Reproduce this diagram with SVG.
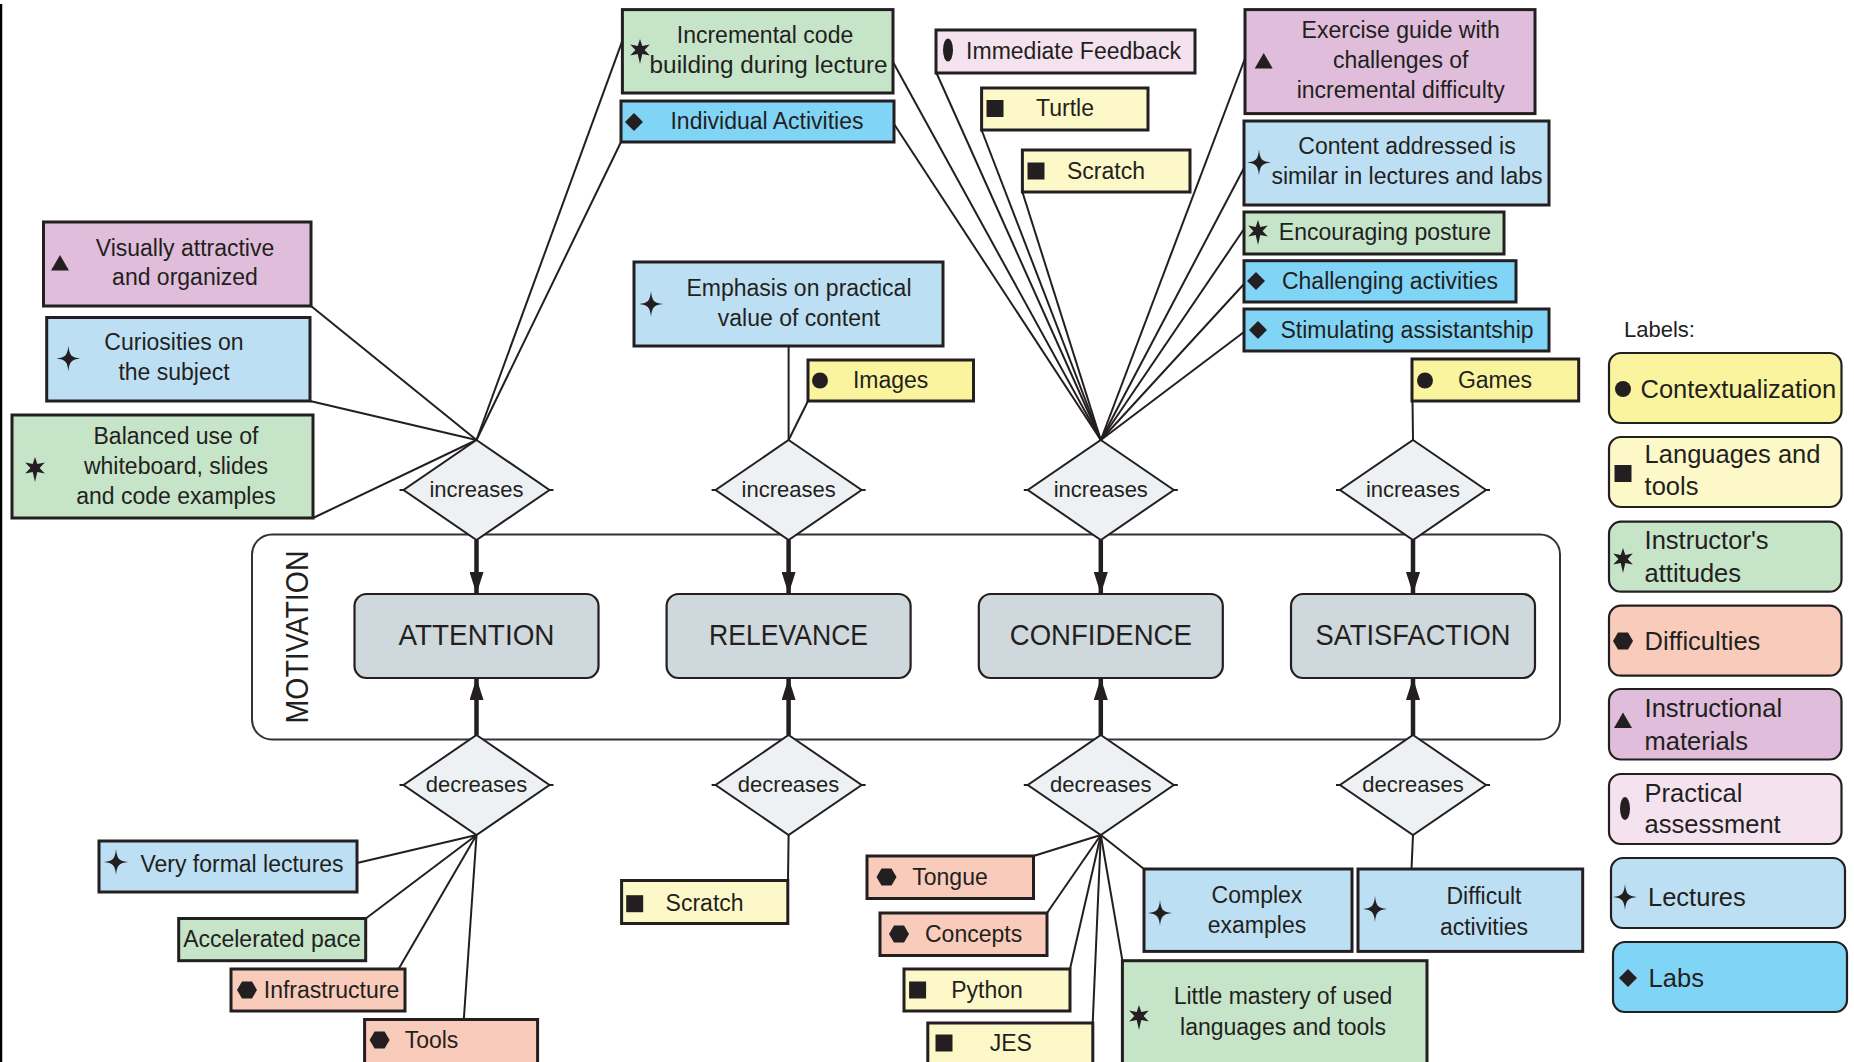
<svg xmlns="http://www.w3.org/2000/svg" xmlns:xlink="http://www.w3.org/1999/xlink" width="1854" height="1062" viewBox="0 0 1854 1062">
  <style>
    text { font-family: "Liberation Sans", Arial, sans-serif; fill: #231f20; }
    .t { font-size: 23px; text-anchor: middle; }
    .rel { font-size: 22px; text-anchor: middle; }
    .big { font-size: 30px; text-anchor: middle; }
    .lg { font-size: 25.5px; }
    .box { stroke: #231f20; stroke-width: 3; }
    .leg { stroke: #231f20; stroke-width: 2.2; }
    .ctx { fill: #fbf49f; }
    .lang { fill: #fcf8c8; }
    .inst { fill: #c6e4c8; }
    .diff { fill: #f9cbbb; }
    .mat { fill: #dfbddb; }
    .prac { fill: #f4e2ef; }
    .lect { fill: #bddff4; }
    .labs { fill: #80d4f6; }
    .dim { fill: #cfd8dd; stroke: #231f20; stroke-width: 2.2; }
    .rhomb { fill: #edf1f4; stroke: #231f20; stroke-width: 2; }
    .tick { stroke: #231f20; stroke-width: 2; }
    #connectors line { stroke: #231f20; stroke-width: 2; }
    #connectors line.arrow { stroke-width: 4.5; }
    .ico { fill: #231f20; }
  </style>
  <defs>
    <!-- category icons, centred on 0,0 -->
    <polygon id="i-tri" class="ico" points="0,-8 9,7.5 -9,7.5"/>
    <rect id="i-sq" class="ico" x="-8.5" y="-8.5" width="17" height="17"/>
    <circle id="i-circ" class="ico" r="8"/>
    <ellipse id="i-ell" class="ico" rx="5" ry="11.5"/>
    <polygon id="i-hex" class="ico" points="-10,0 -5,-8.5 5,-8.5 10,0 5,8.5 -5,8.5"/>
    <polygon id="i-dia" class="ico" points="0,-9 9,0 0,9 -9,0"/>
    <path id="i-star4" class="ico" d="M0,-13 C1,-3 3,-1 12,0 C3,1 1,3 0,13 C-1,3 -3,1 -12,0 C-3,-1 -1,-3 0,-13Z"/>
    <polygon id="i-star6" class="ico" points="0,-11 2.3,-4 9.8,-5.6 4.6,0 9.8,5.6 2.3,4 0,14 -2.3,4 -9.8,5.6 -4.6,0 -9.8,-5.6 -2.3,-4"/>
    <marker id="ah" viewBox="0 0 22 14" refX="22" refY="7" markerWidth="22" markerHeight="14" markerUnits="userSpaceOnUse" orient="auto">
      <path d="M0,0 L22,7 L0,14Z" fill="#231f20"/>
    </marker>
  </defs>

  <rect width="1854" height="1062" fill="#ffffff"/>
  <line x1="1" y1="4" x2="1" y2="1062" stroke="#000" stroke-width="2.5"/>

  <!-- MOTIVATION frame -->
  <g id="motivation">
    <rect x="252" y="534.5" width="1308" height="205" rx="20" fill="none" stroke="#333" stroke-width="2"/>
    <text class="big" textLength="173" lengthAdjust="spacingAndGlyphs" transform="translate(307.5,637) rotate(-90)" x="0" y="0" style="font-size:32px">MOTIVATION</text>
  </g>

  <!-- connectors -->
  <g id="connectors">
    <!-- attention / increases -->
    <line x1="476.5" y1="440" x2="622.4" y2="40.6"/>
    <line x1="476.5" y1="440" x2="621" y2="142"/>
    <line x1="476.5" y1="440" x2="311" y2="306"/>
    <line x1="476.5" y1="440" x2="310" y2="401"/>
    <line x1="476.5" y1="440" x2="313" y2="518"/>
    <!-- relevance / increases -->
    <line x1="788.6" y1="440" x2="788.6" y2="346"/>
    <line x1="788.6" y1="440" x2="808" y2="401"/>
    <!-- confidence / increases -->
    <line x1="1100.8" y1="440" x2="893" y2="62"/>
    <line x1="1100.8" y1="440" x2="894" y2="124"/>
    <line x1="1100.8" y1="440" x2="936.5" y2="73"/>
    <line x1="1100.8" y1="440" x2="981.6" y2="130"/>
    <line x1="1100.8" y1="440" x2="1022.4" y2="192"/>
    <line x1="1100.8" y1="440" x2="1245" y2="58.5"/>
    <line x1="1100.8" y1="440" x2="1244" y2="168"/>
    <line x1="1100.8" y1="440" x2="1244" y2="229"/>
    <line x1="1100.8" y1="440" x2="1244" y2="284"/>
    <line x1="1100.8" y1="440" x2="1244" y2="332"/>
    <!-- satisfaction / increases -->
    <line x1="1413" y1="440" x2="1412.5" y2="401"/>
    <!-- attention / decreases -->
    <line x1="476.5" y1="835" x2="357" y2="863"/>
    <line x1="476.5" y1="835" x2="365.8" y2="918.5"/>
    <line x1="476.5" y1="835" x2="398.6" y2="969"/>
    <line x1="476.5" y1="835" x2="463.8" y2="1019.5"/>
    <!-- relevance / decreases -->
    <line x1="788.6" y1="835" x2="788" y2="880.5"/>
    <!-- confidence / decreases -->
    <line x1="1100.8" y1="835" x2="1033.5" y2="856"/>
    <line x1="1100.8" y1="835" x2="1047" y2="913"/>
    <line x1="1100.8" y1="835" x2="1070" y2="969"/>
    <line x1="1100.8" y1="835" x2="1092.7" y2="1023"/>
    <line x1="1100.8" y1="835" x2="1122.4" y2="960.7"/>
    <line x1="1100.8" y1="835" x2="1144" y2="869"/>
    <!-- satisfaction / decreases -->
    <line x1="1413" y1="835" x2="1411.5" y2="869"/>
    <!-- relation diamonds into the motivation dimensions -->
    <line class="arrow" x1="476.5" y1="540" x2="476.5" y2="594" marker-end="url(#ah)"/>
    <line class="arrow" x1="788.6" y1="540" x2="788.6" y2="594" marker-end="url(#ah)"/>
    <line class="arrow" x1="1100.8" y1="540" x2="1100.8" y2="594" marker-end="url(#ah)"/>
    <line class="arrow" x1="1413" y1="540" x2="1413" y2="594" marker-end="url(#ah)"/>
    <line class="arrow" x1="476.5" y1="735" x2="476.5" y2="678" marker-end="url(#ah)"/>
    <line class="arrow" x1="788.6" y1="735" x2="788.6" y2="678" marker-end="url(#ah)"/>
    <line class="arrow" x1="1100.8" y1="735" x2="1100.8" y2="678" marker-end="url(#ah)"/>
    <line class="arrow" x1="1413" y1="735" x2="1413" y2="678" marker-end="url(#ah)"/>
  </g>

  <!-- motivation dimensions -->
  <g id="attention"><rect class="dim" x="354.5" y="594" width="244" height="84" rx="12"/><text class="big" x="476.5" y="645" textLength="156" lengthAdjust="spacingAndGlyphs">ATTENTION</text></g>
  <g id="relevance"><rect class="dim" x="666.6" y="594" width="244" height="84" rx="12"/><text class="big" x="788.6" y="645" textLength="159" lengthAdjust="spacingAndGlyphs">RELEVANCE</text></g>
  <g id="confidence"><rect class="dim" x="978.8" y="594" width="244" height="84" rx="12"/><text class="big" x="1100.8" y="645" textLength="182" lengthAdjust="spacingAndGlyphs">CONFIDENCE</text></g>
  <g id="satisfaction"><rect class="dim" x="1291" y="594" width="244" height="84" rx="12"/><text class="big" x="1413" y="645" textLength="195" lengthAdjust="spacingAndGlyphs">SATISFACTION</text></g>

  <!-- relation diamonds -->
  <g id="inc-attention"><polygon class="rhomb" points="476.5,440 549.5,490 476.5,540 403.5,490"/><line class="tick" x1="399.5" y1="490" x2="403.5" y2="490"/><line class="tick" x1="549.5" y1="490" x2="553.5" y2="490"/><text class="rel" x="476.5" y="497">increases</text></g>
  <g id="inc-relevance"><polygon class="rhomb" points="788.6,440 861.6,490 788.6,540 715.6,490"/><line class="tick" x1="711.6" y1="490" x2="715.6" y2="490"/><line class="tick" x1="861.6" y1="490" x2="865.6" y2="490"/><text class="rel" x="788.6" y="497">increases</text></g>
  <g id="inc-confidence"><polygon class="rhomb" points="1100.8,440 1173.8,490 1100.8,540 1027.8,490"/><line class="tick" x1="1023.8" y1="490" x2="1027.8" y2="490"/><line class="tick" x1="1173.8" y1="490" x2="1177.8" y2="490"/><text class="rel" x="1100.8" y="497">increases</text></g>
  <g id="inc-satisfaction"><polygon class="rhomb" points="1413,440 1486,490 1413,540 1340,490"/><line class="tick" x1="1336" y1="490" x2="1340" y2="490"/><line class="tick" x1="1486" y1="490" x2="1490" y2="490"/><text class="rel" x="1413" y="497">increases</text></g>
  <g id="dec-attention"><polygon class="rhomb" points="476.5,735 549.5,785 476.5,835 403.5,785"/><line class="tick" x1="399.5" y1="785" x2="403.5" y2="785"/><line class="tick" x1="549.5" y1="785" x2="553.5" y2="785"/><text class="rel" x="476.5" y="792">decreases</text></g>
  <g id="dec-relevance"><polygon class="rhomb" points="788.6,735 861.6,785 788.6,835 715.6,785"/><line class="tick" x1="711.6" y1="785" x2="715.6" y2="785"/><line class="tick" x1="861.6" y1="785" x2="865.6" y2="785"/><text class="rel" x="788.6" y="792">decreases</text></g>
  <g id="dec-confidence"><polygon class="rhomb" points="1100.8,735 1173.8,785 1100.8,835 1027.8,785"/><line class="tick" x1="1023.8" y1="785" x2="1027.8" y2="785"/><line class="tick" x1="1173.8" y1="785" x2="1177.8" y2="785"/><text class="rel" x="1100.8" y="792">decreases</text></g>
  <g id="dec-satisfaction"><polygon class="rhomb" points="1413,735 1486,785 1413,835 1340,785"/><line class="tick" x1="1336" y1="785" x2="1340" y2="785"/><line class="tick" x1="1486" y1="785" x2="1490" y2="785"/><text class="rel" x="1413" y="792">decreases</text></g>

  <!-- factors that increase motivation -->
  <g id="n-visually"><rect class="box mat" x="43.5" y="222" width="267.5" height="84"/><use href="#i-tri" x="60" y="263"/><text class="t" x="185" y="256">Visually attractive</text><text class="t" x="185" y="285">and organized</text></g>
  <g id="n-curiosities"><rect class="box lect" x="46.7" y="317.5" width="263.3" height="83.5"/><use href="#i-star4" x="68.4" y="358.5"/><text class="t" x="174" y="350">Curiosities on</text><text class="t" x="174" y="380">the subject</text></g>
  <g id="n-balanced"><rect class="box inst" x="12" y="415" width="301" height="103"/><use href="#i-star6" x="35" y="468"/><text class="t" x="176" y="444">Balanced use of</text><text class="t" x="176" y="474">whiteboard, slides</text><text class="t" x="176" y="504">and code examples</text></g>
  <g id="n-incremental"><rect class="box inst" x="622.4" y="9.6" width="270.6" height="83.4"/><use href="#i-star6" x="640" y="50"/><text class="t" x="765" y="43">Incremental code</text><text class="t" x="768.6" y="73" textLength="238" lengthAdjust="spacingAndGlyphs">building during lecture</text></g>
  <g id="n-individual"><rect class="box labs" x="621" y="101" width="273" height="41"/><use href="#i-dia" x="634" y="122"/><text class="t" x="767" y="128.5">Individual Activities</text></g>
  <g id="n-emphasis"><rect class="box lect" x="634" y="262" width="309" height="84"/><use href="#i-star4" x="651" y="304"/><text class="t" x="799" y="296">Emphasis on practical</text><text class="t" x="799" y="325.5">value of content</text></g>
  <g id="n-images"><rect class="box ctx" x="808" y="360" width="165.5" height="41"/><use href="#i-circ" x="820" y="380.5"/><text class="t" x="890.6" y="388">Images</text></g>
  <g id="n-feedback"><rect class="box prac" x="936" y="30" width="259" height="43"/><use href="#i-ell" x="948" y="50"/><text class="t" x="1073.5" y="58.5">Immediate Feedback</text></g>
  <g id="n-turtle"><rect class="box lang" x="981.6" y="88" width="166.4" height="42"/><use href="#i-sq" x="995" y="108.5"/><text class="t" x="1065" y="116">Turtle</text></g>
  <g id="n-scratch-top"><rect class="box lang" x="1022.4" y="150" width="167.6" height="42"/><use href="#i-sq" x="1036" y="171"/><text class="t" x="1106" y="178.5">Scratch</text></g>
  <g id="n-exercise"><rect class="box mat" x="1245" y="9.6" width="290" height="104"/><use href="#i-tri" x="1263.7" y="61"/><text class="t" x="1400.7" y="38">Exercise guide with</text><text class="t" x="1400.7" y="68">challenges of</text><text class="t" x="1400.7" y="98">incremental difficulty</text></g>
  <g id="n-content"><rect class="box lect" x="1244" y="121" width="305" height="84"/><use href="#i-star4" x="1259" y="162.5"/><text class="t" x="1407" y="154">Content addressed is</text><text class="t" x="1407" y="184">similar in lectures and labs</text></g>
  <g id="n-encouraging"><rect class="box inst" x="1244" y="212" width="260" height="42"/><use href="#i-star6" x="1258" y="231"/><text class="t" x="1385" y="240">Encouraging posture</text></g>
  <g id="n-challenging"><rect class="box labs" x="1244" y="260.7" width="272" height="41.3"/><use href="#i-dia" x="1256" y="281"/><text class="t" x="1390" y="288.5">Challenging activities</text></g>
  <g id="n-stimulating"><rect class="box labs" x="1244" y="309" width="305" height="42"/><use href="#i-dia" x="1258" y="330"/><text class="t" x="1407" y="337.5">Stimulating assistantship</text></g>
  <g id="n-games"><rect class="box ctx" x="1412" y="359" width="166.7" height="42"/><use href="#i-circ" x="1425" y="380.5"/><text class="t" x="1495" y="388">Games</text></g>

  <!-- factors that decrease motivation -->
  <g id="n-formal"><rect class="box lect" x="99" y="841" width="258" height="51"/><use href="#i-star4" x="116" y="862"/><text class="t" x="242" y="872">Very formal lectures</text></g>
  <g id="n-pace"><rect class="box inst" x="178.7" y="918.5" width="187" height="42.2"/><text class="t" x="272" y="946.5">Accelerated pace</text></g>
  <g id="n-infrastructure"><rect class="box diff" x="231" y="969" width="174" height="42"/><use href="#i-hex" x="247" y="990"/><text class="t" x="331.5" y="997.5">Infrastructure</text></g>
  <g id="n-tools"><rect class="box diff" x="364.6" y="1019.5" width="173" height="50"/><use href="#i-hex" x="379.6" y="1040"/><text class="t" x="431.5" y="1047.5">Tools</text></g>
  <g id="n-scratch-bottom"><rect class="box lang" x="621.6" y="880.5" width="166.2" height="43"/><use href="#i-sq" x="634.7" y="903.7"/><text class="t" x="704.6" y="911">Scratch</text></g>
  <g id="n-tongue"><rect class="box diff" x="867" y="856" width="166.5" height="42.5"/><use href="#i-hex" x="886.5" y="877"/><text class="t" x="950" y="884.5">Tongue</text></g>
  <g id="n-concepts"><rect class="box diff" x="880" y="913" width="167" height="42.5"/><use href="#i-hex" x="899" y="934"/><text class="t" x="973.6" y="941.5">Concepts</text></g>
  <g id="n-python"><rect class="box lang" x="904" y="969" width="166" height="42"/><use href="#i-sq" x="917.6" y="990"/><text class="t" x="987" y="997.5">Python</text></g>
  <g id="n-jes"><rect class="box lang" x="927.8" y="1023" width="165" height="50"/><use href="#i-sq" x="944" y="1043"/><text class="t" x="1010.8" y="1050.5">JES</text></g>
  <g id="n-complex"><rect class="box lect" x="1144" y="869" width="208" height="82.4"/><use href="#i-star4" x="1160" y="913"/><text class="t" x="1257" y="902.5">Complex</text><text class="t" x="1257" y="932.5">examples</text></g>
  <g id="n-mastery"><rect class="box inst" x="1122.4" y="960.7" width="304.6" height="110"/><use href="#i-star6" x="1139" y="1016"/><text class="t" x="1283" y="1003.5">Little mastery of used</text><text class="t" x="1283" y="1034.5">languages and tools</text></g>
  <g id="n-difficult"><rect class="box lect" x="1358" y="869" width="224.7" height="82.4"/><use href="#i-star4" x="1375" y="909"/><text class="t" x="1484" y="903.5">Difficult</text><text class="t" x="1484" y="934.5">activities</text></g>

  <!-- legend -->
  <g id="legend">
    <text x="1624" y="336.5" style="font-size:22px">Labels:</text>
    <g id="lg-context"><rect class="leg ctx" x="1609" y="353" width="232.5" height="70" rx="12"/><use href="#i-circ" x="1623" y="389"/><text class="lg" x="1640.5" y="397.5">Contextualization</text></g>
    <g id="lg-languages"><rect class="leg lang" x="1609" y="437" width="232.5" height="70" rx="12"/><use href="#i-sq" x="1623" y="473.5"/><text class="lg" x="1644.6" y="463">Languages and</text><text class="lg" x="1644.6" y="494.5">tools</text></g>
    <g id="lg-instructor"><rect class="leg inst" x="1609" y="521.7" width="232.5" height="70" rx="12"/><use href="#i-star6" x="1623" y="559"/><text class="lg" x="1644.6" y="549">Instructor's</text><text class="lg" x="1644.6" y="582">attitudes</text></g>
    <g id="lg-difficulties"><rect class="leg diff" x="1609" y="605.7" width="232.5" height="70" rx="12"/><use href="#i-hex" x="1623" y="641"/><text class="lg" x="1644.6" y="649.5">Difficulties</text></g>
    <g id="lg-materials"><rect class="leg mat" x="1609" y="689" width="232.5" height="70.5" rx="12"/><use href="#i-tri" x="1623" y="720.5"/><text class="lg" x="1644.6" y="716.5">Instructional</text><text class="lg" x="1644.6" y="749.5">materials</text></g>
    <g id="lg-practical"><rect class="leg prac" x="1609" y="774" width="232.5" height="70" rx="12"/><use href="#i-ell" x="1625" y="808.6"/><text class="lg" x="1644.6" y="801.5">Practical</text><text class="lg" x="1644.6" y="832.5">assessment</text></g>
    <g id="lg-lectures"><rect class="leg lect" x="1611" y="858" width="234" height="70" rx="12"/><use href="#i-star4" x="1625" y="897"/><text class="lg" x="1648" y="905.5">Lectures</text></g>
    <g id="lg-labs"><rect class="leg labs" x="1613" y="942" width="234" height="70" rx="12"/><use href="#i-dia" x="1628" y="978"/><text class="lg" x="1648.6" y="986.5">Labs</text></g>
  </g>
</svg>
